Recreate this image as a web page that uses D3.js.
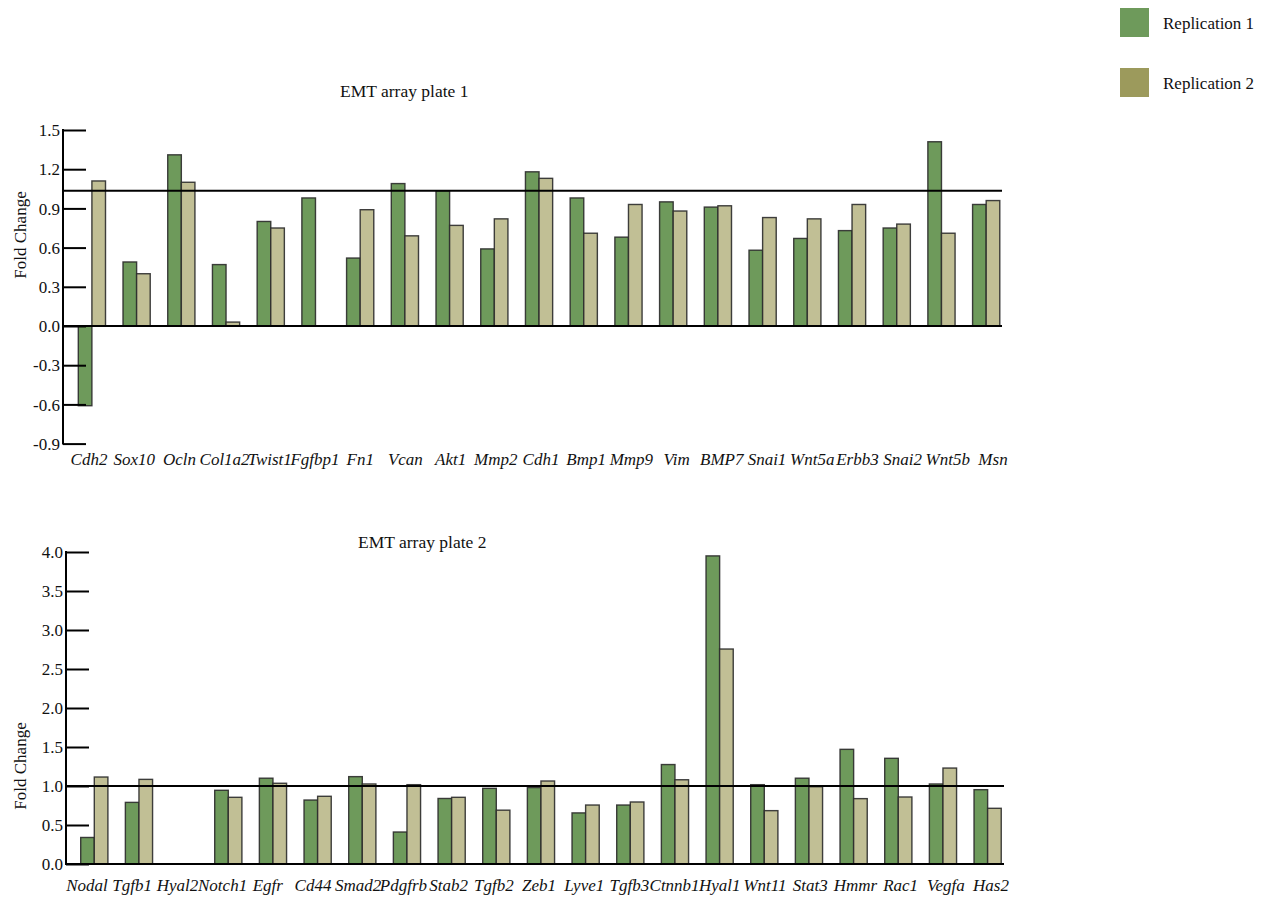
<!DOCTYPE html>
<html>
<head>
<meta charset="utf-8">
<script src="https://cdn.jsdelivr.net/npm/d3@7"></script>
<style>
  html, body { margin: 0; padding: 0; background: #fff; }
  svg { display: block; }
  text { font-family: "Liberation Serif", "Times New Roman", serif; fill: #111; }
</style>
</head>
<body>
<svg id="chart" width="1270" height="898"></svg>
<script>
// ---------- DATA ----------
const genes1 = ["Cdh2","Sox10","Ocln","Col1a2","Twist1","Fgfbp1","Fn1","Vcan","Akt1","Mmp2","Cdh1","Bmp1","Mmp9","Vim","BMP7","Snai1","Wnt5a","Erbb3","Snai2","Wnt5b","Msn"];
const rep1Plate1 = [-0.61,0.49,1.31,0.47,0.80,0.98,0.52,1.09,1.035,0.59,1.18,0.98,0.68,0.95,0.91,0.58,0.67,0.73,0.75,1.41,0.93];
const rep2Plate1 = [1.11,0.40,1.10,0.03,0.75,null,0.89,0.69,0.77,0.82,1.13,0.71,0.93,0.88,0.92,0.83,0.82,0.93,0.78,0.71,0.96];
const ticks1 = [1.5,1.2,0.9,0.6,0.3,0.0,-0.3,-0.6,-0.9];
const tickLabels1 = ["1.5","1.2","0.9","0.6","0.3","0.0","-0.3","-0.6","-0.9"];
const refLine1 = 1.035;

const genes2 = ["Nodal","Tgfb1","Hyal2","Notch1","Egfr","Cd44","Smad2","Pdgfrb","Stab2","Tgfb2","Zeb1","Lyve1","Tgfb3","Ctnnb1","Hyal1","Wnt11","Stat3","Hmmr","Rac1","Vegfa","Has2"];
const rep1Plate2 = [0.34,0.79,null,0.945,1.10,0.82,1.12,0.41,0.84,0.97,0.98,0.655,0.756,1.275,3.95,1.017,1.10,1.47,1.355,1.026,0.953];
const rep2Plate2 = [1.115,1.085,null,0.855,1.035,0.868,1.026,1.017,0.855,0.69,1.064,0.756,0.795,1.08,2.756,0.684,0.991,0.838,0.859,1.23,0.714];
const ticks2 = [4.0,3.5,3.0,2.5,2.0,1.5,1.0,0.5,0.0];
const tickLabels2 = ["4.0","3.5","3.0","2.5","2.0","1.5","1.0","0.5","0.0"];
const refLine2 = 1.0;

const seriesNames = ["Replication 1","Replication 2"];
const barColors = ["#6e9a5b","#c1bf95"];
const legendColors = ["#6e9a5b","#9c9a5c"];

// ---------- DRAW ----------
const svg = d3.select("#chart");

function panel(cfg) {
  const g = svg.append("g");
  const x = d3.scaleBand().domain(cfg.genes).range([cfg.x0, cfg.x1]).padding(0);
  const xl = d3.scaleBand().domain(cfg.genes).range(cfg.labelRange).padding(0);
  const y = d3.scaleLinear().domain(cfg.domain).range([cfg.yBottom, cfg.yTop]);
  const sub = d3.scaleBand().domain([0,1]).range([cfg.barOffset, cfg.barOffset + 27.2]).padding(0);

  const rows = [];
  cfg.genes.forEach((gname, i) => {
    [cfg.r1[i], cfg.r2[i]].forEach((v, s) => {
      if (v !== null && v !== undefined) rows.push({gene: gname, s, v});
    });
  });

  g.selectAll("rect.bar").data(rows).enter().append("rect")
    .attr("class","bar")
    .attr("x", d => x(d.gene) + sub(d.s))
    .attr("width", sub.bandwidth())
    .attr("y", d => y(Math.max(0, d.v)))
    .attr("height", d => Math.abs(y(d.v) - y(0)))
    .attr("fill", d => barColors[d.s])
    .attr("stroke", "#2b2b2b")
    .attr("stroke-width", 1.4)
    .attr("stroke-opacity", 0.9);

  // zero line and reference line
  g.append("line").attr("x1", cfg.x0).attr("x2", cfg.lineEnd)
    .attr("y1", y(0)).attr("y2", y(0)).attr("stroke","#000").attr("stroke-width",2);
  g.append("line").attr("x1", cfg.x0).attr("x2", cfg.lineEnd)
    .attr("y1", y(cfg.ref)).attr("y2", y(cfg.ref)).attr("stroke","#000").attr("stroke-width",1.8);

  // y axis
  const axis = d3.axisRight(y).tickValues(cfg.ticks).tickSize(23)
    .tickFormat((d,i) => "");
  const ag = g.append("g").attr("transform", `translate(${cfg.x0},0)`).call(axis);
  ag.select(".domain").remove();
  ag.selectAll(".tick line").attr("stroke","#000").attr("stroke-width",2);
  g.append("line").attr("x1", cfg.x0).attr("x2", cfg.x0)
    .attr("y1", y(cfg.domain[1]) - 1).attr("y2", y(cfg.domain[0]) + 1)
    .attr("stroke","#000").attr("stroke-width",2);
  g.selectAll("text.ytick").data(cfg.ticks).enter().append("text")
    .attr("class","ytick")
    .attr("x", cfg.x0 - 3)
    .attr("y", d => y(d))
    .attr("dy", "0.36em")
    .attr("text-anchor","end")
    .style("font-size","17px")
    .text((d,i) => cfg.tickLabels[i]);

  // category labels
  g.selectAll("text.xlab").data(cfg.genes).enter().append("text")
    .attr("class","xlab")
    .attr("x", d => xl(d) + xl.bandwidth()/2)
    .attr("y", cfg.labelY)
    .attr("text-anchor","middle")
    .style("font-size","17px")
    .style("font-style","italic")
    .text(d => d);

  // y title
  g.append("text")
    .attr("transform", `translate(26,${cfg.yTitleY}) rotate(-90)`)
    .attr("text-anchor","middle")
    .style("font-size","17px")
    .text("Fold Change");

  // plot title
  g.append("text")
    .attr("x", cfg.titleX).attr("y", cfg.titleY)
    .style("font-size","17.5px")
    .text(cfg.title);
}

panel({
  genes: genes1, r1: rep1Plate1, r2: rep2Plate1,
  ticks: ticks1, tickLabels: tickLabels1, ref: refLine1,
  domain: [-0.9, 1.5], yBottom: 443.6, yTop: 130,
  x0: 63, x1: 1002, lineEnd: 1002, barOffset: 15.3,
  labelRange: [66.4, 66.4 + 21*45.2], labelY: 465,
  yTitleY: 235, title: "EMT array plate 1", titleX: 340, titleY: 97
});

panel({
  genes: genes2, r1: rep1Plate2, r2: rep2Plate2,
  ticks: ticks2, tickLabels: tickLabels2, ref: refLine2,
  domain: [0, 4], yBottom: 864, yTop: 552,
  x0: 66, x1: 1004, lineEnd: 1004, barOffset: 14.7,
  labelRange: [64.4, 64.4 + 21*45.2], labelY: 891,
  yTitleY: 766, title: "EMT array plate 2", titleX: 358, titleY: 548
});

// legend
const leg = svg.append("g");
const legY = [8, 68];
leg.selectAll("rect").data(seriesNames).enter().append("rect")
  .attr("x", 1120).attr("y", (d,i) => legY[i]).attr("width", 29).attr("height", 29)
  .attr("fill", (d,i) => legendColors[i]);
leg.selectAll("text").data(seriesNames).enter().append("text")
  .attr("x", 1163).attr("y", (d,i) => legY[i] + 15)
  .attr("dy","0.36em")
  .style("font-size","17px")
  .text(d => d);
</script>
</body>
</html>
